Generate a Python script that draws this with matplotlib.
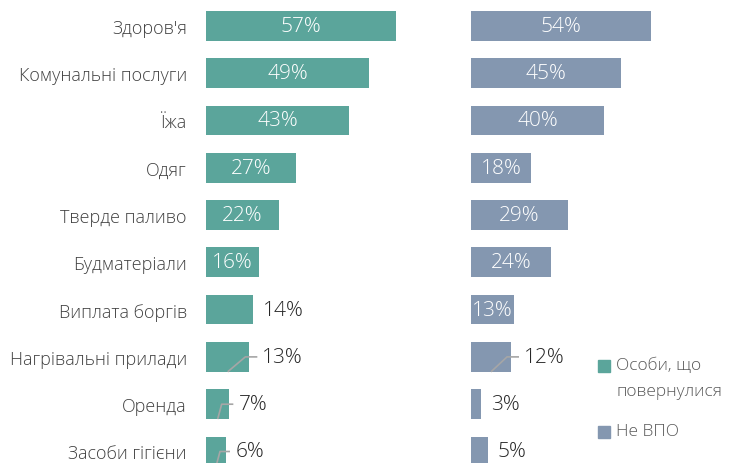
import matplotlib
matplotlib.use("Agg")
import matplotlib.pyplot as plt
from matplotlib.patches import Rectangle
from matplotlib import font_manager as fm

plt.rcParams['font.family'] = ['Open Sans', 'DejaVu Sans']
light = [f for f in fm.fontManager.ttflist if f.name in ('Open Sans', 'Roboto', 'Lato', 'Noto Sans') and f.weight in (200, 300, 'light', 'extra light')]
WT = 'light' if any(f.name == 'Open Sans' for f in light) else 'normal'

categories = ["Здоров'я", "Комунальні послуги", "Їжа", "Одяг", "Тверде паливо",
              "Будматеріали", "Виплата боргів", "Нагрівальні прилади", "Оренда",
              "Засоби гігієни"]
returned = [57, 49, 43, 27, 22, 16, 14, 13, 7, 6]
non_idp = [54, 45, 40, 18, 29, 24, 13, 12, 3, 5]
series_names = ["Особи, що\nповернулися", "Не ВПО"]

# label style: 'in' = inside white, 'out' = outside, 'lead' = outside with leader line
left_modes = ['in', 'in', 'in', 'in', 'in', 'in', 'out', 'lead', 'lead', 'lead']
right_modes = ['in', 'in', 'in', 'in', 'in', 'in', 'in', 'lead', 'out', 'out']

TEAL = '#5BA59B'
BLUE = '#8497B0'
LEAD = '#A6A6A6'
W, H = 737, 464
PXU = 190 / 57.0  # pixels per percent

fig = plt.figure(figsize=(W / 100, H / 100), dpi=100)
row_px = 47.3
top_px = 26.8 - row_px / 2
ax_h = row_px * 10
ax_bottom = (H - (top_px + ax_h)) / H

axL = fig.add_axes([206 / W, ax_bottom, 250 / W, ax_h / H])
axR = fig.add_axes([471 / W, ax_bottom, 240 / W, ax_h / H])

PCT = 15
bar_h = 0.63
for ax, vals, color, modes in [(axL, returned, TEAL, left_modes),
                               (axR, non_idp, BLUE, right_modes)]:
    width_px = ax.get_position().width * W
    ax.set_xlim(0, width_px / PXU)
    ax.set_ylim(len(vals) - 0.5, -0.5)
    ax.barh(range(len(vals)), vals, height=bar_h, color=color, edgecolor='none')
    for s in ax.spines.values():
        s.set_visible(False)
    ax.set_xticks([])
    u = 1 / PXU  # data units per pixel (x)
    for i, v in enumerate(vals):
        m = modes[i]
        if m == 'in':
            ax.text(v / 2, i, f"{v}%", ha='center', va='center', color='white',
                    fontsize=PCT, fontweight=WT)
        elif m == 'out':
            ax.text(v + 10 * u, i, f"{v}%", ha='left', va='center', color='#262626',
                    fontsize=PCT, fontweight=WT)
        else:
            mid = v / 2
            if v >= 10:
                bend = v - 4 * u
                hend = v + 8 * u
                tx = v + 13 * u
            else:
                bend = mid + 4 * u
                hend = v + 4 * u
                tx = v + 10 * u
            ax.plot([mid, bend, hend], [i + bar_h / 2, i, i], color=LEAD, lw=1.2,
                    clip_on=False, solid_capstyle='butt')
            ax.text(tx, i, f"{v}%", ha='left', va='center', color='#262626',
                    fontsize=PCT, fontweight=WT)

axL.set_yticks(range(len(categories)))
axL.set_yticklabels(categories, fontsize=13, color='#404040', fontweight=WT)
axL.tick_params(axis='y', length=0, pad=13.7)
axR.set_yticks([])

# legend
fig.patches.append(Rectangle((598 / W, (H - 373) / H), 12 / W, 12 / H,
                             transform=fig.transFigure, color=TEAL))
fig.text(616 / W, (H - 366) / H, series_names[0].split('\n')[0], fontsize=12.5,
         color='#595959', va='center', fontweight=WT)
fig.text(616 / W, (H - 392) / H, series_names[0].split('\n')[1], fontsize=12.5,
         color='#595959', va='center', fontweight=WT)
fig.patches.append(Rectangle((598 / W, (H - 439) / H), 12 / W, 12 / H,
                             transform=fig.transFigure, color=BLUE))
fig.text(616 / W, (H - 432) / H, series_names[1], fontsize=12.5,
         color='#595959', va='center', fontweight=WT)

fig.savefig('out.png', dpi=100)
